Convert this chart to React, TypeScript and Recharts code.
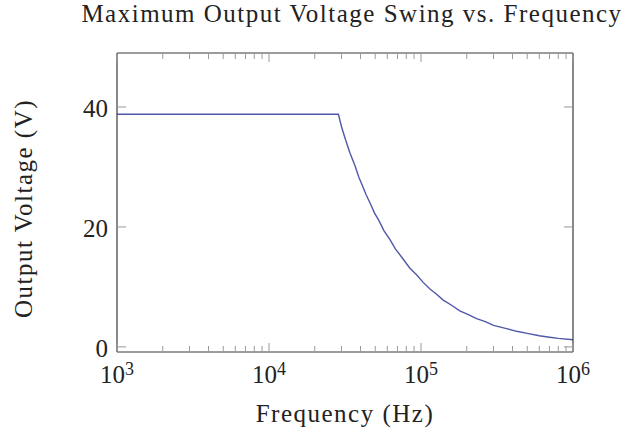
import React from 'react';
import { LineChart, Line, XAxis, YAxis } from 'recharts';

// ---- data ----
const frequencies = [
  1000, 28600, 30000, 32000, 34000, 36800, 39000, 41000, 43500, 46200, 49500, 53000, 57000,
  62500, 68000, 75000, 84000, 93800, 103000, 115000, 125000, 140000, 160000, 180000, 205000,
  232000, 265000, 300000, 360000, 426000, 500000, 600000, 700000, 800000, 1000000,
];
const voltages = [
  38.8, 38.8, 36.7, 34.4, 32.4, 30.2, 28.3, 27.0, 25.4, 24.0, 22.3, 21.0, 19.4,
  17.9, 16.3, 14.9, 13.2, 12.0, 10.8, 9.6, 8.9, 7.8, 6.9, 6.0, 5.4,
  4.7, 4.2, 3.6, 3.1, 2.6, 2.25, 1.85, 1.62, 1.42, 1.2,
];
const xMajorTicks = [1000, 10000, 100000, 1000000];
const xMajorExponents = ['3', '4', '5', '6'];
const xMinorTicks = [
  2000, 3000, 4000, 5000, 6000, 7000, 8000, 9000,
  20000, 30000, 40000, 50000, 60000, 70000, 80000, 90000,
  200000, 300000, 400000, 500000, 600000, 700000, 800000, 900000,
];
const yTicks = [0, 20, 40];
const yTickLabels = ['0', '20', '40'];
const xDomain = [1000, 1000000];
const yDomain = [-0.85, 49];

const title = 'Maximum Output Voltage Swing vs. Frequency';
const xLabel = 'Frequency (Hz)';
const yLabel = 'Output Voltage (V)';

const data = frequencies.map((f, i) => ({ f, v: voltages[i] }));
const allXTicks = [...xMajorTicks, ...xMinorTicks].sort((a, b) => a - b);

const FONT = '"Liberation Serif", "Times New Roman", serif';
const TEXT = '#222';
const TICK = '#9a9a9a';
const AXIS = '#3a3a3a';
const MAJOR = 9;
const MINOR = 6;
const LS = 1.5;

const isMajor = (v: number) => xMajorTicks.some((m) => Math.abs(m - v) / m < 1e-6);

const BottomTick = (props: any) => {
  const { x, y, payload } = props;
  const v = payload.value;
  const idx = xMajorTicks.findIndex((m) => Math.abs(m - v) / m < 1e-6);
  const major = idx >= 0;
  return (
    <g>
      <line x1={x} x2={x} y1={y} y2={y - (major ? MAJOR : MINOR)} stroke={TICK} strokeWidth={1} />
      {major && (
        <text x={x} y={y + 31} textAnchor="middle" fontFamily={FONT} fontSize={25} fill={TEXT}>
          <tspan>10</tspan>
          <tspan dy={-8} fontSize={18}>{xMajorExponents[idx]}</tspan>
        </text>
      )}
    </g>
  );
};

const TopTick = (props: any) => {
  const { x, y, payload } = props;
  const major = isMajor(payload.value);
  return <line x1={x} x2={x} y1={y} y2={y + (major ? MAJOR : MINOR)} stroke={TICK} strokeWidth={1} />;
};

const LeftTick = (props: any) => {
  const { x, y, payload } = props;
  const idx = yTicks.indexOf(payload.value);
  return (
    <g>
      <line x1={x} x2={x + MAJOR} y1={y} y2={y} stroke={TICK} strokeWidth={1} />
      <text x={x - 9} y={y + 10} textAnchor="end" fontFamily={FONT} fontSize={25} fill={TEXT}>
        {yTickLabels[idx]}
      </text>
    </g>
  );
};

const RightTick = (props: any) => {
  const { x, y } = props;
  return <line x1={x} x2={x - MAJOR} y1={y} y2={y} stroke={TICK} strokeWidth={1} />;
};

const TitleLabel = (props: any) => {
  const vb = props.viewBox || { x: 117, width: 456 };
  return (
    <text
      x={vb.x + vb.width / 2 + 7}
      y={22}
      textAnchor="middle"
      fontFamily={FONT}
      fontSize={25}
      fill={TEXT}
      style={{ letterSpacing: `${LS}px` }}
    >
      {title}
    </text>
  );
};

const XLabel = (props: any) => {
  const vb = props.viewBox || { x: 117, y: 352, width: 456 };
  return (
    <text
      x={vb.x + vb.width / 2}
      y={vb.y + 70}
      textAnchor="middle"
      fontFamily={FONT}
      fontSize={25}
      fill={TEXT}
      style={{ letterSpacing: `${LS}px` }}
    >
      {xLabel}
    </text>
  );
};

const YLabel = (props: any) => {
  const vb = props.viewBox || { x: 0, y: 53, height: 299 };
  const cx = 32;
  const cy = vb.y + vb.height / 2 + 6;
  return (
    <text
      x={cx}
      y={cy}
      transform={`rotate(-90, ${cx}, ${cy})`}
      textAnchor="middle"
      fontFamily={FONT}
      fontSize={25}
      fill={TEXT}
      style={{ letterSpacing: `${LS}px` }}
    >
      {yLabel}
    </text>
  );
};

export default function App() {
  return (
    <div style={{ position: 'absolute', left: 0, top: 0, width: 626, height: 433, background: '#fff' }}>
      <LineChart width={626} height={433} data={data} margin={{ top: 0, right: 0, bottom: 0, left: 0 }}>
        <XAxis
          xAxisId="b"
          orientation="bottom"
          dataKey="f"
          type="number"
          scale="log"
          domain={xDomain}
          allowDataOverflow
          ticks={allXTicks}
          interval={0}
          height={81}
          tickSize={0}
          tickMargin={0}
          tickLine={false}
          tick={<BottomTick />}
          axisLine={{ stroke: AXIS, strokeWidth: 1.2 }}
          label={XLabel}
        />
        <XAxis
          xAxisId="t"
          orientation="top"
          dataKey="f"
          type="number"
          scale="log"
          domain={xDomain}
          allowDataOverflow
          ticks={allXTicks}
          interval={0}
          height={53}
          tickSize={0}
          tickMargin={0}
          tickLine={false}
          tick={<TopTick />}
          axisLine={{ stroke: AXIS, strokeWidth: 1.2 }}
          label={TitleLabel}
        />
        <YAxis
          yAxisId="l"
          orientation="left"
          type="number"
          domain={yDomain}
          allowDataOverflow
          ticks={yTicks}
          interval={0}
          width={117}
          tickSize={0}
          tickMargin={0}
          tickLine={false}
          tick={<LeftTick />}
          axisLine={{ stroke: AXIS, strokeWidth: 1.2 }}
          label={YLabel}
        />
        <YAxis
          yAxisId="r"
          orientation="right"
          type="number"
          domain={yDomain}
          allowDataOverflow
          ticks={yTicks}
          interval={0}
          width={53}
          tickSize={0}
          tickMargin={0}
          tickLine={false}
          tick={<RightTick />}
          axisLine={{ stroke: AXIS, strokeWidth: 1.2 }}
        />
        <Line
          xAxisId="b"
          yAxisId="l"
          type="linear"
          dataKey="v"
          stroke="#5058a8"
          strokeWidth={1.4}
          dot={false}
          activeDot={false}
          isAnimationActive={false}
        />
      </LineChart>
    </div>
  );
}
